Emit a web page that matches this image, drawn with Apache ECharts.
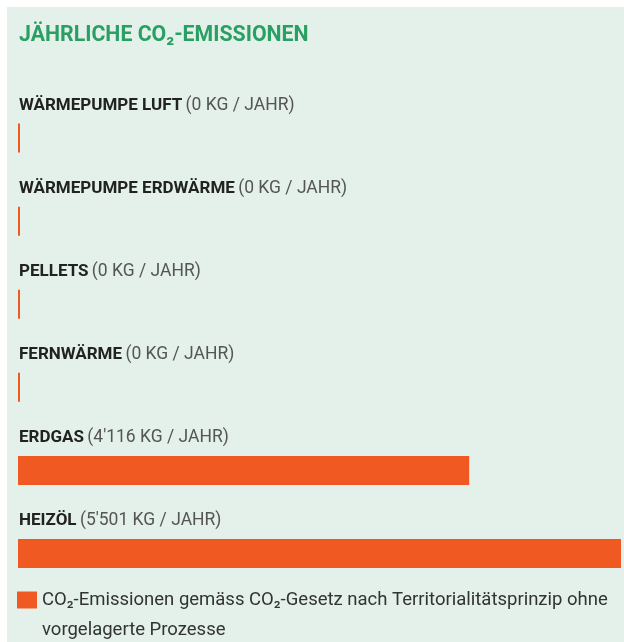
<!DOCTYPE html>
<html>
<head>
<meta charset="utf-8">
<script src="https://cdn.jsdelivr.net/npm/echarts@6/dist/echarts.min.js"></script>
<style>
	html, body { margin: 0; padding: 0; background: #ffffff; }
	#chart { width: 624px; height: 642px; }
</style>
</head>
<body>
<div id="chart"></div>
<script>
	// Heizsysteme und jährliche CO2-Emissionen (kg / Jahr)
	var categories = ['WÄRMEPUMPE LUFT', 'WÄRMEPUMPE ERDWÄRME', 'PELLETS', 'FERNWÄRME', 'ERDGAS', 'HEIZÖL'];
	var emissions = [0, 0, 0, 0, 4116, 5501];
	var legendName = 'CO₂-Emissionen gemäss CO₂-Gesetz nach Territorialitätsprinzip ohne\nvorgelagerte Prozesse';

	function formatKg(v) {
		// Schweizer Tausendertrennzeichen
		return String(v).replace(/\B(?=(\d{3})+(?!\d))/g, "'");
	}

	var myChart = echarts.init(document.getElementById('chart'));

	var option = {
		backgroundColor: '#ffffff',
		animation: false,
		graphic: [{
			type: 'rect',
			z: -10,
			shape: { x: 7, y: 7, width: 617, height: 635 },
			style: { fill: '#e3f1ea' }
		}],
		title: {
			text: 'JÄHRLICHE CO₂-EMISSIONEN',
			left: 14,
			top: 20,
			textStyle: {
				fontFamily: 'Roboto',
				fontWeight: 'bold',
				fontSize: 21.3,
				color: '#2a9f63'
			}
		},
		legend: {
			data: [legendName],
			left: 17,
			top: 555,
			padding: 0,
			icon: 'rect',
			itemWidth: 20,
			itemHeight: 17,
			selectedMode: false,
			// leere erste Zeile, damit das Symbol neben der ersten Textzeile steht
			formatter: function (name) {
				return '\n' + name;
			},
			textStyle: {
				fontFamily: 'Roboto',
				fontSize: 18.5,
				color: '#333333',
				lineHeight: 30
			}
		},
		grid: {
			left: 18,
			right: 3,
			top: 96.5,
			bottom: 47
		},
		xAxis: {
			type: 'value',
			min: 0,
			max: 5501,
			show: false
		},
		yAxis: {
			type: 'category',
			data: categories,
			inverse: true,
			show: false
		},
		series: [{
			name: legendName,
			type: 'bar',
			data: emissions,
			barWidth: 29,
			barMinHeight: 2,
			itemStyle: { color: '#f05a22' },
			label: {
				show: true,
				position: [1, -18],
				align: 'left',
				verticalAlign: 'middle',
				formatter: function (p) {
					return '{b|' + p.name + '} {g|(' + formatKg(p.value) + ' KG / JAHR)}';
				},
				rich: {
					b: {
						fontFamily: 'Roboto',
						fontWeight: 'bold',
						fontSize: 17,
						color: '#222222'
					},
					g: {
						fontFamily: 'Roboto',
						fontSize: 17.5,
						color: '#555555'
					}
				}
			}
		}]
	};

	myChart.setOption(option);
</script>
</body>
</html>
